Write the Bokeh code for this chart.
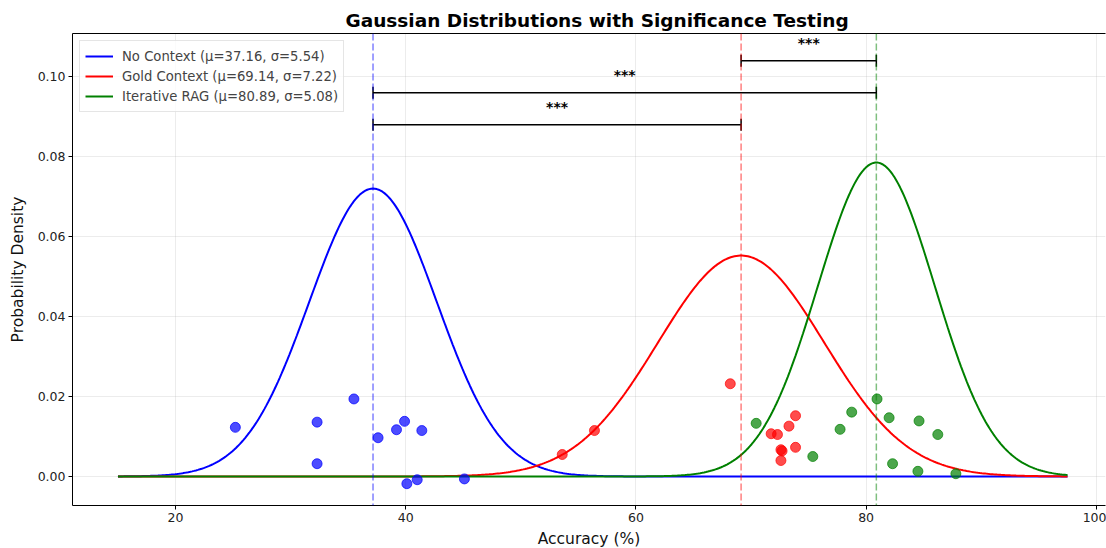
import numpy as np
from bokeh.plotting import figure
from bokeh.models import Range1d, Span, FixedTicker, PrintfTickFormatter, LinearAxis
from bokeh.core.properties import value
from bokeh.embed import file_html
from bokeh.resources import INLINE

# ---- data ----
names = ["No Context", "Gold Context", "Iterative RAG"]
colors = ["blue", "red", "green"]
mus = [37.16, 69.14, 80.89]
sigmas = [5.54, 7.22, 5.08]

blue_x = [25.2, 32.3, 32.3, 35.5, 37.6, 39.2, 39.9, 41.4, 40.1, 41.0, 45.1]
blue_y = [0.0123, 0.0136, 0.0032, 0.0194, 0.0097, 0.0117, 0.0138, 0.0115, -0.0018, -0.0008, -0.0006]
red_x = [53.6, 56.4, 68.2, 71.75, 72.3, 73.3, 73.87, 72.6, 72.7, 73.87, 72.6]
red_y = [0.0055, 0.0115, 0.0232, 0.0107, 0.0105, 0.0126, 0.0152, 0.0067, 0.0064, 0.0073, 0.0040]
green_x = [70.45, 75.37, 77.74, 78.75, 80.95, 82.0, 82.3, 84.6, 84.5, 86.23, 87.8]
green_y = [0.0133, 0.0050, 0.0118, 0.0161, 0.0194, 0.0147, 0.0032, 0.0139, 0.0013, 0.0105, 0.0007]
points_x = [blue_x, red_x, green_x]
points_y = [blue_y, red_y, green_y]

curve_start, curve_end = 15.0, 97.5

bracket_pairs = [(0, 1), (0, 2), (1, 2)]
bracket_y = [0.088, 0.096, 0.104]
bracket_text = ["***", "***", "***"]

x_ticks = [20, 40, 60, 80, 100]
y_ticks = [0.00, 0.02, 0.04, 0.06, 0.08, 0.10]

FONT = "DejaVu Sans"

p = figure(frame_width=1033, frame_height=472, output_backend="svg", toolbar_location=None,
           x_range=Range1d(11.05, 100.8), y_range=Range1d(-0.00725, 0.1108),
           min_border_left=72, min_border_right=1, min_border_top=33, min_border_bottom=40)

p.title.text = "Gaussian Distributions with Significance Testing"
p.title.text_font = FONT
p.title.text_font_size = "18.5px"
p.title.text_font_style = "bold"
p.title.text_color = "black"
p.title.align = "left"
p.title.offset = 273
p.title.standoff = 6

xax = p.below[0]
yax = p.left[0]

for ax in (xax, yax):
    ax.axis_line_color = "black"
    ax.axis_line_width = 1
    ax.major_tick_out = 4
    ax.major_tick_in = 0
    ax.minor_tick_line_color = None
    ax.major_label_text_font = FONT
    ax.major_label_text_font_size = "12.5px"
    ax.major_label_text_color = "#222222"
    ax.major_label_standoff = 3
    ax.axis_label_text_font = FONT
    ax.axis_label_text_font_size = "15.5px"
    ax.axis_label_text_font_style = "normal"
    ax.axis_label_text_color = "#111111"

xax.ticker = FixedTicker(ticks=x_ticks)
yax.ticker = FixedTicker(ticks=y_ticks)
yax.formatter = PrintfTickFormatter(format="%.2f")
xax.axis_label = "Accuracy (%)"
yax.axis_label = "Probability Density"
xax.axis_label_standoff = 5
yax.axis_label_standoff = 8

# spines: left, bottom, top (right edge of the reference is cut off)
p.outline_line_color = None
p.background_fill_color = "white"
top_axis = LinearAxis(ticker=FixedTicker(ticks=[]), axis_line_color="black",
                      major_tick_line_color=None, minor_tick_line_color=None,
                      major_label_text_font_size="0px", major_label_standoff=0,
                      major_tick_out=0, major_tick_in=0)
p.add_layout(top_axis, "above")

for g, t in ((p.xgrid[0], x_ticks), (p.ygrid[0], y_ticks)):
    g.grid_line_color = "#b0b0b0"
    g.grid_line_alpha = 0.3
    g.grid_line_width = 0.8
    g.ticker = FixedTicker(ticks=t)

xs = np.linspace(curve_start, curve_end, 500)
for name, c, mu, sd in zip(names, colors, mus, sigmas):
    ys = np.exp(-0.5 * ((xs - mu) / sd) ** 2) / (sd * np.sqrt(2 * np.pi))
    p.line(xs, ys, line_color=c, line_width=2,
           legend_label=f"{name} (\u03bc={mu:.2f}, \u03c3={sd:.2f})")

for c, px, py in zip(colors, points_x, points_y):
    p.scatter(px, py, size=10, fill_color=c, line_color=c, fill_alpha=0.7, line_alpha=0.7)

for c, mu in zip(colors, mus):
    p.add_layout(Span(location=mu, dimension="height", line_color=c, line_alpha=0.5,
                      line_dash="7 3", line_width=1.5))

cap = 0.0015
for (i, j), by, t in zip(bracket_pairs, bracket_y, bracket_text):
    x1, x2 = mus[i], mus[j]
    p.line([x1, x2], [by, by], line_color="black", line_width=1.5)
    p.segment([x1, x2], [by - cap, by - cap], [x1, x2], [by + cap, by + cap],
              line_color="black", line_width=1.5)
    p.text([(x1 + x2) / 2], [by + 0.0025], text=[t], text_align="center",
           text_baseline="bottom", text_font=value(FONT), text_font_size="14px",
           text_font_style="bold", text_color="black")

leg = p.legend[0]
leg.location = "top_left"
leg.margin = 7
leg.padding = 5
leg.spacing = 0
leg.label_text_font = FONT
leg.label_text_font_size = "13.2px"
leg.label_height = 20
leg.glyph_height = 20
leg.glyph_width = 28
leg.label_standoff = 9
leg.border_line_color = "#cccccc"
leg.border_line_width = 1
leg.background_fill_alpha = 0.8

open("out.html", "w").write(file_html(p, INLINE))
